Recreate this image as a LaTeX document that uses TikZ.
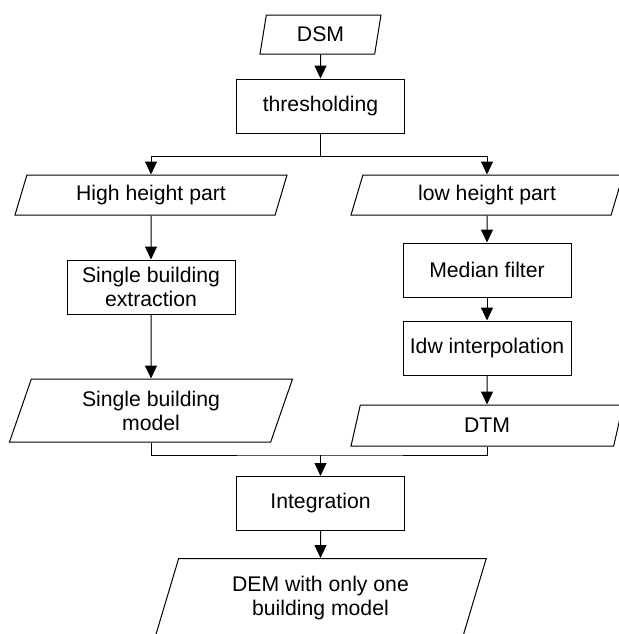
\documentclass[tikz,border=0pt]{standalone}
\usepackage{fontspec}
\setmainfont{Liberation Sans}
\usepackage{tikz}
\usetikzlibrary{arrows.meta, positioning, calc, shapes.geometric}

\begin{document}
\begin{tikzpicture}[node distance=12pt,
  every node/.style={font=\fontsize{10.6}{12}\selectfont, align=center, line width=0.5pt},
  procbox/.style={rectangle, draw, minimum width=84pt, minimum height=27pt, inner sep=2pt},
  iobox/.style={trapezium, draw, trapezium left angle=63.4, trapezium right angle=116.6,
    trapezium stretches body, inner sep=1pt, minimum width=136pt, minimum height=20pt},
  arr/.style={-{Triangle[length=6.5pt, width=6pt]}, line width=0.5pt}]

\useasboundingbox (0,0) rectangle (309.5pt,-317pt);

% Entrada y umbral
\node[iobox, trapezium left angle=71.6, trapezium right angle=108.4,
  minimum width=60.5pt, minimum height=19.5pt] (dsm) at (160.25pt,-17.25pt) {DSM};
\node[procbox, below=of dsm] (thr) {thresholding};

% Rama izquierda
\node[iobox] (high) at (75.5pt,-97.5pt) {High height part};
\node[procbox, below=22pt of high] (sbe) {Single building\\extraction};
\node[iobox, minimum width=141.5pt, minimum height=31.5pt, below=32pt of sbe] (sbm) {Single building\\model};

% Rama derecha
\node[iobox] (low) at (243.5pt,-97.5pt) {low height part};
\node[procbox, below=13.5pt of low] (med) {Median filter};
\node[procbox, below=11.5pt of med] (idw) {Idw interpolation};
\node[iobox, minimum height=20.5pt, below=14.5pt of idw] (dtm) {DTM};

% Union y salida
\node[procbox] (integ) at (160.25pt,-251.75pt) {Integration};
\node[iobox, minimum width=165.75pt, minimum height=40pt, below=13.5pt of integ] (dem) {DEM with only one\\building model};

% Flechas
\draw[arr] (dsm) -- (thr);
\coordinate (split) at ($(thr.south)+(0,-11.5pt)$);
\draw[arr] (thr.south) -- (split) -| (high.north);
\draw[arr] (split) -| (low.north);
\draw[arr] (high) -- (sbe);
\draw[arr] (sbe) -- (sbm);
\draw[arr] (low) -- (med);
\draw[arr] (med) -- (idw);
\draw[arr] (idw) -- (dtm);
\coordinate (join) at ($(integ.north)+(0,10.5pt)$);
\draw (sbm.south) |- (join) -| (dtm.south);
\draw[arr] (join) -- (integ);
\draw[arr] (integ) -- (dem);

\end{tikzpicture}
\end{document}
